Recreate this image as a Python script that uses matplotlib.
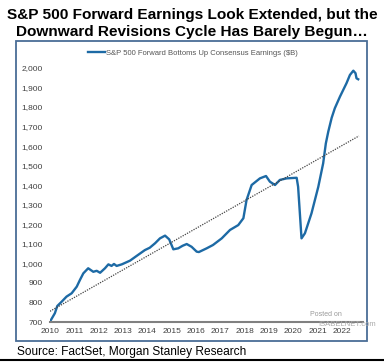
import matplotlib
matplotlib.use("Agg")
import matplotlib.pyplot as plt
from matplotlib.patches import Rectangle

plt.rcParams['font.family'] = ['Liberation Sans', 'DejaVu Sans']

title = "S&P 500 Forward Earnings Look Extended, but the\nDownward Revisions Cycle Has Barely Begun\u2026"
series_label = "S&P 500 Forward Bottoms Up Consensus Earnings ($B)"
source = "Source: FactSet, Morgan Stanley Research"

# data (fractional year, $B)
years = [2010.0, 2010.2, 2010.3, 2010.48, 2010.68, 2010.89, 2011.1, 2011.23, 2011.37, 2011.57,
         2011.78, 2011.92, 2012.06, 2012.26, 2012.4, 2012.53, 2012.63, 2012.74, 2012.95, 2013.29,
         2013.56, 2013.9, 2014.1, 2014.32, 2014.52, 2014.73, 2014.9, 2015.07, 2015.27, 2015.45,
         2015.62, 2015.82, 2016.03, 2016.12, 2016.44, 2016.7, 2017.06, 2017.4, 2017.74, 2017.95,
         2018.08, 2018.29, 2018.63, 2018.88, 2019.04, 2019.25, 2019.45, 2019.73, 2020.14, 2020.2,
         2020.34, 2020.48, 2020.75, 2021.03, 2021.23, 2021.34, 2021.44, 2021.58, 2021.71, 2021.92,
         2022.19, 2022.33, 2022.47, 2022.56, 2022.6, 2022.67]
earnings = [702, 745, 782, 804, 830, 847, 881, 915, 949, 975,
            957, 962, 952, 975, 995, 987, 997, 987, 995, 1014,
            1038, 1068, 1080, 1103, 1128, 1142, 1123, 1072, 1077, 1090,
            1099, 1085, 1060, 1058, 1077, 1094, 1128, 1171, 1196, 1231,
            1324, 1401, 1435, 1447, 1418, 1401, 1427, 1435, 1438, 1392,
            1128, 1154, 1256, 1392, 1512, 1614, 1674, 1745, 1794, 1853,
            1922, 1964, 1986, 1973, 1947, 1942]
trend_years = [2010.0, 2022.7]
trend_values = [755, 1652]
year_ticks = list(range(2010, 2023))
value_ticks = list(range(700, 2001, 100))

fig = plt.figure(figsize=(3.84, 3.63), dpi=100)
fig.patch.set_facecolor("white")

fig.text(0.5, 0.978, title, ha="center", va="top", fontsize=11.1, fontweight="bold",
         linespacing=1.3)

# framed panel around the chart
fig.patches.append(Rectangle((16 / 384, 1 - 341 / 363), 351 / 384, 300 / 363,
                             transform=fig.transFigure, fill=False,
                             edgecolor="#4a6d96", linewidth=1.3))
fig.add_artist(plt.Line2D([0, 1], [1 - 360 / 363, 1 - 360 / 363], transform=fig.transFigure,
                          color="black", linewidth=1.5))

ax = fig.add_axes([0.1302, 0.1129, 0.814, 0.7538])
ax.plot(years, earnings, color="#1d6aa5", linewidth=1.7, label=series_label)
ax.plot(trend_years, trend_values, color="#444444", linewidth=0.9, linestyle=(0, (1, 1)))

ax.set_xlim(2010, 2022.85)
ax.set_ylim(700, 2100)
ax.set_xticks(year_ticks)
ax.set_xticklabels([str(y) for y in year_ticks])
ax.set_yticks(value_ticks)
ax.set_yticklabels(["{:,}".format(v) for v in value_ticks])
ax.tick_params(length=0, labelsize=6, labelcolor="#404040")
ax.tick_params(axis="y", pad=5)
ax.tick_params(axis="x", pad=4)
for side in ["top", "right", "left"]:
    ax.spines[side].set_visible(False)
ax.spines["bottom"].set_color("#808080")
ax.spines["bottom"].set_linewidth(1.5)

ax.legend(loc="upper left", bbox_to_anchor=(0.1, 1.02), frameon=False, fontsize=5.5,
          handlelength=2.2, handletextpad=0.1, labelcolor="#555555")

fig.text(310 / 384, 1 - 314 / 363, "Posted on", fontsize=5, color="#999999", va="center")
fig.text(318 / 384, 1 - 325 / 363, "ISABELNET.com", fontsize=5.5, color="#aaaaaa", va="center")

fig.text(17 / 384, 1 - 352 / 363, source, fontsize=8.6, va="center")

fig.savefig("out.png", dpi=100)
